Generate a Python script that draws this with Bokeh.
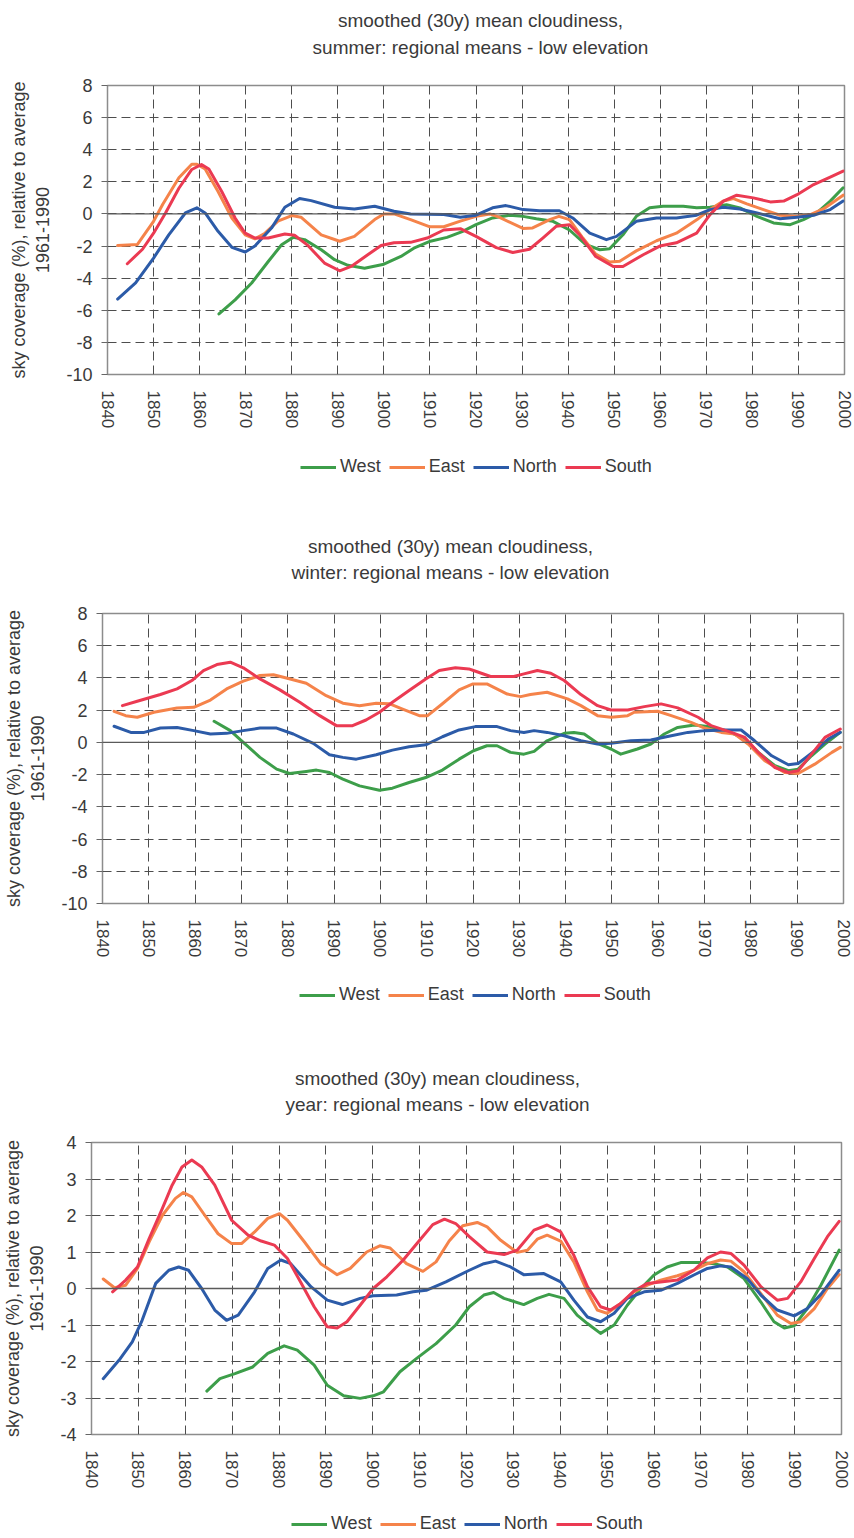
import math
from bokeh.plotting import figure
from bokeh.models import Range1d, FixedTicker, Span, Legend, LegendItem
from bokeh.core.properties import value
from bokeh.layouts import column
from bokeh.embed import file_html
from bokeh.resources import INLINE

# ----------------------------------------------------------------- data
regions = ["West", "East", "North", "South"]
region_colors = ["#3d9e4a", "#f5834a", "#2c5ba8", "#eb3a52"]

decade_ticks = [1840, 1850, 1860, 1870, 1880, 1890, 1900, 1910, 1920,
                1930, 1940, 1950, 1960, 1970, 1980, 1990, 2000]
season_yticks = [-10, -8, -6, -4, -2, 0, 2, 4, 6, 8]
year_yticks = [-4, -3, -2, -1, 0, 1, 2, 3, 4]

summer_title = ["smoothed (30y) mean cloudiness,", "summer: regional means - low elevation"]
winter_title = ["smoothed (30y) mean cloudiness,", "winter: regional means - low elevation"]
year_title = ["smoothed (30y) mean cloudiness,", "year: regional means - low elevation"]
y_axis_title = ["sky coverage (%), relative to average", "1961-1990"]

# --- summer
summer_west_years = [1864.2, 1867.7, 1871.3, 1874.9, 1877.8, 1880.3, 1882.8, 1886.4, 1889.3, 1892.2,
                     1895.8, 1900, 1903.7, 1906.5, 1910.1, 1913.7, 1917.0, 1920, 1923.6, 1927.3,
                     1930.2, 1933.1, 1936.7, 1940.3, 1943.9, 1946.9, 1949, 1951.9, 1954.8, 1957.7,
                     1960.6, 1965, 1967.9, 1970.8, 1974.4, 1977.3, 1981, 1984.6, 1988.2, 1991.1,
                     1994, 1996.9, 1999.7]
summer_west = [-6.23, -5.35, -4.3, -2.96, -1.92, -1.46, -1.6, -2.23, -2.85, -3.2,
               -3.38, -3.13, -2.65, -2.13, -1.7, -1.46, -1.1, -0.67, -0.25, -0.08,
               -0.15, -0.3, -0.46, -1.0, -1.92, -2.23, -2.17, -1.3, -0.15, 0.38,
               0.48, 0.48, 0.38, 0.42, 0.58, 0.38, -0.15, -0.56, -0.67, -0.35,
               0.06, 0.8, 1.63]
summer_east_years = [1842.2, 1846.5, 1850, 1852, 1855.5, 1858.3, 1859.4, 1861.2, 1864, 1867,
                     1869.9, 1872, 1874.2, 1877, 1880, 1882, 1886.4, 1890.4, 1893.6, 1898,
                     1900, 1902.2, 1905.8, 1910, 1913, 1916.6, 1920, 1923, 1925, 1930.2,
                     1932.3, 1936, 1938, 1940.3, 1943.2, 1946, 1949, 1951.2, 1954.8, 1959.2,
                     1963.5, 1968, 1970.8, 1973.7, 1975.9, 1978.8, 1982.4, 1986, 1989.7, 1992.6,
                     1995.5, 1999.7]
summer_east = [-1.96, -1.9, -0.46, 0.6, 2.25, 3.1, 3.1, 2.8, 1.4, -0.25,
               -1.3, -1.55, -1.2, -0.45, -0.1, -0.2, -1.3, -1.7, -1.4, -0.35,
               0.0, 0.0, -0.35, -0.8, -0.8, -0.45, -0.15, 0.0, -0.2, -0.9,
               -0.87, -0.35, -0.15, -0.35, -1.5, -2.5, -3.0, -2.95, -2.3, -1.67,
               -1.2, -0.35, 0.27, 0.8, 0.96, 0.63, 0.27, -0.08, -0.15, -0.04,
               0.33, 1.17]
summer_north_years = [1842.2, 1846.1, 1850, 1853.3, 1856.9, 1859.4, 1861.2, 1864, 1867, 1869.9,
                      1872, 1875.6, 1878.5, 1881.7, 1884.2, 1889.3, 1893.6, 1898, 1902.2, 1905.8,
                      1913, 1916.6, 1920, 1923.6, 1926.5, 1930.2, 1933.8, 1938.1, 1941, 1944.7,
                      1948.3, 1950.5, 1954.8, 1959.2, 1963.5, 1967.9, 1970.8, 1973.7, 1977.3, 1981,
                      1986, 1989.7, 1993.3, 1996.9, 1999.7]
summer_north = [-5.3, -4.3, -2.75, -1.3, 0.06, 0.38, 0.06, -1.08, -2.08, -2.37,
                -2.0, -0.88, 0.42, 0.96, 0.83, 0.42, 0.31, 0.48, 0.17, 0.0,
                -0.04, -0.2, -0.08, 0.38, 0.52, 0.27, 0.2, 0.2, -0.25, -1.2,
                -1.6, -1.4, -0.46, -0.25, -0.25, -0.08, 0.27, 0.42, 0.31, 0.06,
                -0.3, -0.2, -0.08, 0.27, 0.8]
summer_south_years = [1844.3, 1847.6, 1850, 1852.6, 1855.5, 1858.3, 1860.4, 1862, 1864.8, 1867.7,
                      1869.9, 1872, 1874.9, 1878.5, 1880.6, 1883.5, 1887.1, 1890.4, 1892.9, 1896.5,
                      1899.4, 1902.2, 1905.8, 1909.4, 1913, 1916.6, 1920, 1924.4, 1928, 1931.6,
                      1934.5, 1937.4, 1940.3, 1942.5, 1946, 1949.8, 1951.9, 1956.3, 1959.9, 1963.5,
                      1967.9, 1970.8, 1973.7, 1976.6, 1980.2, 1983.9, 1986.8, 1989.7, 1993.3, 1996.9,
                      1999.7]
summer_south = [-3.1, -2.2, -1.2, 0.06, 1.6, 2.77, 3.08, 2.8, 1.4, -0.25,
                -1.2, -1.5, -1.5, -1.25, -1.33, -1.96, -3.06, -3.54, -3.27, -2.54,
                -1.96, -1.8, -1.77, -1.5, -1.0, -0.92, -1.4, -2.1, -2.4, -2.2,
                -1.5, -0.77, -0.67, -1.3, -2.65, -3.27, -3.27, -2.54, -2.0, -1.8,
                -1.2, -0.04, 0.8, 1.17, 1.0, 0.75, 0.8, 1.2, 1.83, 2.3,
                2.67]

# --- winter
winter_west_years = [1864.1, 1867.6, 1870.4, 1874, 1877.6, 1880.4, 1884, 1886.2, 1889, 1891.9,
                     1895.5, 1899.8, 1902.6, 1906.2, 1909.8, 1913.4, 1917, 1920.1, 1923, 1925.2,
                     1928.1, 1931, 1933.2, 1936, 1939.7, 1941.8, 1944, 1946.9, 1949.8, 1951.9,
                     1955.5, 1958.4, 1961.3, 1964.2, 1967.8, 1970.7, 1975.1, 1978.7, 1981.6, 1985.2,
                     1988.1, 1990.2, 1993.1, 1996, 1999.3]
winter_west = [1.31, 0.73, 0.0, -0.93, -1.66, -1.93, -1.8, -1.72, -1.87, -2.28,
               -2.7, -2.97, -2.84, -2.49, -2.18, -1.72, -1.04, -0.52, -0.21, -0.21,
               -0.62, -0.73, -0.56, 0.1, 0.56, 0.62, 0.52, -0.06, -0.41, -0.73,
               -0.41, -0.1, 0.52, 0.93, 1.08, 0.98, 0.69, 0.21, -0.62, -1.45,
               -1.76, -1.66, -0.83, -0.1, 0.62]
winter_east_years = [1842.5, 1845, 1847.5, 1851.1, 1856.1, 1859.7, 1863.3, 1866.8, 1870.4, 1874,
                     1876.9, 1879.7, 1884, 1888.3, 1891.9, 1895.5, 1899.1, 1901.9, 1904.8, 1908.4,
                     1910.2, 1913.4, 1917, 1920, 1923, 1927.4, 1930.3, 1932.4, 1936, 1940.4,
                     1943.3, 1946.9, 1949.8, 1953.4, 1954.8, 1959.9, 1962.8, 1967.1, 1970, 1973.6,
                     1976.5, 1979.4, 1983, 1987.3, 1990.2, 1993.8, 1997.5, 1999.3]
winter_east = [1.93, 1.66, 1.56, 1.87, 2.14, 2.18, 2.63, 3.32, 3.8, 4.15,
               4.2, 4.0, 3.67, 2.9, 2.43, 2.28, 2.43, 2.4, 2.07, 1.66,
               1.66, 2.4, 3.26, 3.63, 3.63, 3.0, 2.84, 2.97, 3.11, 2.7,
               2.28, 1.66, 1.56, 1.66, 1.87, 1.93, 1.66, 1.24, 0.89, 0.62,
               0.52, -0.1, -1.14, -1.87, -1.93, -1.35, -0.62, -0.31]
winter_north_years = [1842.5, 1846.1, 1849, 1852.5, 1856.1, 1859.7, 1863.3, 1866.8, 1870.4, 1874,
                      1877.6, 1881.2, 1885.5, 1889, 1891.9, 1894.8, 1899.1, 1902.6, 1906.2, 1909.8,
                      1913.4, 1917, 1920.5, 1925.2, 1928.1, 1931, 1933.2, 1936, 1939.7, 1943.3,
                      1946.9, 1949.8, 1954.1, 1958.4, 1962.8, 1966.4, 1970, 1974.3, 1977.9, 1980.8,
                      1984.5, 1988.1, 1990.2, 1993.8, 1996.7, 1999.3]
winter_north = [1.0, 0.62, 0.62, 0.89, 0.93, 0.73, 0.52, 0.56, 0.73, 0.89,
                0.89, 0.52, -0.06, -0.77, -0.93, -1.04, -0.77, -0.48, -0.27, -0.15,
                0.35, 0.77, 0.98, 0.98, 0.73, 0.62, 0.73, 0.62, 0.41, 0.1,
                -0.1, -0.06, 0.1, 0.15, 0.41, 0.62, 0.73, 0.77, 0.77, 0.1,
                -0.83, -1.39, -1.31, -0.52, 0.21, 0.62]
winter_south_years = [1844.3, 1847.5, 1852.5, 1856.1, 1859.3, 1861.8, 1864.7, 1867.6, 1870.4, 1874,
                      1878.3, 1882.6, 1886.9, 1890.5, 1894, 1896.9, 1899.8, 1902.6, 1906.2, 1909.8,
                      1912.7, 1916.2, 1919.1, 1920.1, 1923.8, 1928.8, 1931, 1933.9, 1936.8, 1939.7,
                      1943.3, 1946.9, 1949.8, 1953.4, 1957, 1960.6, 1964.2, 1968.6, 1971.4, 1975.8,
                      1978.7, 1981.6, 1985.2, 1988.1, 1990.2, 1993.1, 1996, 1999.3]
winter_south = [2.28, 2.55, 2.97, 3.32, 3.84, 4.46, 4.83, 4.98, 4.63, 3.94,
                3.26, 2.49, 1.66, 1.04, 1.04, 1.39, 1.87, 2.49, 3.22, 3.94,
                4.46, 4.63, 4.56, 4.46, 4.09, 4.09, 4.25, 4.46, 4.29, 3.84,
                2.97, 2.28, 2.01, 2.01, 2.22, 2.39, 2.14, 1.56, 1.04, 0.62,
                0.31, -0.62, -1.56, -1.87, -1.76, -0.73, 0.31, 0.83]

# --- year
year_west_years = [1864.6, 1867.4, 1870.6, 1874.4, 1877.6, 1881.1, 1883.9, 1887.5, 1890.3, 1893.8,
                   1897.3, 1900.1, 1902.3, 1905.8, 1909.3, 1913.5, 1917.7, 1920.6, 1923.7, 1925.8,
                   1928, 1932.2, 1935.1, 1937.6, 1940.8, 1943.6, 1945.8, 1948.6, 1951.5, 1954.3,
                   1957.2, 1960, 1962.8, 1965.7, 1970, 1972.8, 1975.7, 1979.2, 1982.8, 1985.6,
                   1987.8, 1989.9, 1992.7, 1995.6, 1999.5]
year_west = [-2.81, -2.47, -2.33, -2.15, -1.78, -1.57, -1.69, -2.1, -2.65, -2.94,
             -3.01, -2.94, -2.83, -2.28, -1.92, -1.51, -1.0, -0.5, -0.18, -0.11,
             -0.27, -0.44, -0.27, -0.16, -0.27, -0.73, -0.96, -1.23, -1.0, -0.46,
             0.0, 0.37, 0.59, 0.71, 0.71, 0.68, 0.59, 0.27, -0.37, -0.91,
             -1.08, -1.02, -0.55, 0.09, 1.05]
year_east_years = [1842.5, 1844.9, 1847.3, 1849.8, 1852.3, 1855.1, 1857.9, 1859.6, 1861.4, 1864.2,
                   1867, 1869.9, 1872, 1874.8, 1877.6, 1880.1, 1881.8, 1885.4, 1888.9, 1892.4,
                   1895.2, 1898.7, 1901.5, 1903.7, 1907.2, 1910.7, 1913.5, 1916.3, 1919.2, 1922.3,
                   1924.4, 1927.3, 1930.8, 1933, 1935.1, 1937.2, 1940.1, 1942.9, 1945.8, 1947.9,
                   1950, 1952.9, 1955.7, 1958.6, 1961.4, 1965, 1968.5, 1971.4, 1974.2, 1976.4,
                   1979.2, 1982.8, 1986.3, 1989.2, 1991.3, 1994.2, 1997, 1999.5]
year_east = [0.26, 0.02, 0.09, 0.55, 1.28, 2.0, 2.47, 2.63, 2.51, 2.0,
             1.5, 1.23, 1.23, 1.55, 1.92, 2.05, 1.87, 1.28, 0.68, 0.38,
             0.55, 1.0, 1.17, 1.11, 0.68, 0.47, 0.73, 1.3, 1.72, 1.81,
             1.69, 1.32, 0.99, 1.05, 1.35, 1.46, 1.3, 0.73, -0.09, -0.59,
             -0.68, -0.41, -0.09, 0.09, 0.23, 0.35, 0.5, 0.68, 0.78, 0.75,
             0.46, -0.14, -0.73, -0.96, -0.91, -0.55, 0.0, 0.38]
year_north_years = [1842.5, 1845.9, 1848.7, 1850.8, 1853.7, 1856.5, 1858.6, 1860.7, 1863.5, 1866.3,
                    1868.8, 1871.3, 1874.8, 1877.6, 1880.4, 1882.5, 1886.8, 1890.3, 1893.5, 1897.3,
                    1900.1, 1905.1, 1908.6, 1911.4, 1915.6, 1920.6, 1923.7, 1926.2, 1929.4, 1932.2,
                    1936.5, 1940.1, 1942.9, 1945.8, 1948.6, 1951.5, 1954.3, 1957.9, 1961.4, 1965,
                    1968.5, 1971.4, 1974.2, 1976.4, 1979.9, 1982.8, 1986.3, 1989.9, 1992.7, 1995.6,
                    1999.5]
year_north = [-2.47, -1.96, -1.46, -0.87, 0.14, 0.5, 0.59, 0.5, 0.0, -0.59,
              -0.87, -0.73, -0.09, 0.55, 0.78, 0.68, 0.05, -0.32, -0.44, -0.27,
              -0.2, -0.18, -0.09, -0.05, 0.18, 0.5, 0.68, 0.75, 0.59, 0.38,
              0.41, 0.18, -0.32, -0.78, -0.91, -0.68, -0.27, -0.09, -0.05, 0.14,
              0.37, 0.55, 0.62, 0.59, 0.27, -0.18, -0.59, -0.75, -0.55, -0.16,
              0.5]
year_south_years = [1844.5, 1847.3, 1849.8, 1852.3, 1855.1, 1857.2, 1859.3, 1861.4, 1863.5, 1866.3,
                    1869.9, 1873.4, 1876.2, 1879, 1881.8, 1884.6, 1887.5, 1890.3, 1892.4, 1894.5,
                    1897.3, 1900.1, 1903, 1906.5, 1910, 1912.8, 1915.3, 1917.7, 1920.6, 1924.4,
                    1928, 1930.8, 1934.4, 1937.2, 1940.1, 1942.9, 1945.8, 1948.6, 1950.7, 1952.9,
                    1955.7, 1958.6, 1961.4, 1965, 1968.5, 1971.4, 1974.2, 1976.4, 1979.2, 1982.8,
                    1986.3, 1988.5, 1991.3, 1994.2, 1997, 1999.5]
year_south = [-0.09, 0.23, 0.59, 1.37, 2.19, 2.83, 3.33, 3.52, 3.33, 2.83,
              1.87, 1.46, 1.3, 1.19, 0.82, 0.18, -0.5, -1.05, -1.08, -0.91,
              -0.46, 0.0, 0.32, 0.78, 1.32, 1.75, 1.9, 1.78, 1.42, 1.0,
              0.93, 1.05, 1.6, 1.74, 1.55, 0.91, 0.05, -0.5, -0.59, -0.41,
              -0.07, 0.14, 0.18, 0.23, 0.5, 0.84, 1.0, 0.96, 0.64, 0.05,
              -0.32, -0.27, 0.18, 0.82, 1.42, 1.84]

# ----------------------------------------------------------------- styling / layout
FONT = "Liberation Sans"
TXT = "#3a3a3a"
W = 854

# page geometry (px from the top-left of the page)
charts = [
    dict(title=summer_title, yticks=season_yticks,
         series=[(summer_west_years, summer_west), (summer_east_years, summer_east),
                 (summer_north_years, summer_north), (summer_south_years, summer_south)],
         band=(0, 62, 440, 505), frame=(107, 844, 85, 374),
         title_x=480, title_y=(20, 46.5), legend_c=(476, 467)),
    dict(title=winter_title, yticks=season_yticks,
         series=[(winter_west_years, winter_west), (winter_east_years, winter_east),
                 (winter_north_years, winter_north), (winter_south_years, winter_south)],
         band=(505, 590, 970, 1035), frame=(102, 843, 613, 903),
         title_x=450, title_y=(546, 572), legend_c=(475, 995)),
    dict(title=year_title, yticks=year_yticks,
         series=[(year_west_years, year_west), (year_east_years, year_east),
                 (year_north_years, year_north), (year_south_years, year_south)],
         band=(1035, 1119, 1500, 1536), frame=(89, 841, 1142, 1434),
         title_x=437, title_y=(1078, 1104), legend_c=(467, 1524)),
]

legend_text_em = [2.278, 2.001, 2.445, 2.613]   # label advance widths (em)


def no_align(f):
    try:
        f.frame_align = False
    except Exception:
        pass
    return f


def blank_fig(cfg, h):
    fl, fr = cfg["frame"][0], cfg["frame"][1]
    f = figure(width=W, height=h, x_range=Range1d(fl, fr), y_range=Range1d(h, 0),
               output_backend="svg", toolbar_location=None,
               x_axis_location=None, y_axis_location=None,
               min_border_left=fl, min_border_right=W - fr, min_border_top=0, min_border_bottom=0)
    f.grid.visible = False
    f.outline_line_color = None
    return no_align(f)


def title_fig(cfg):
    t0, t1 = cfg["band"][0], cfg["band"][1]
    f = blank_fig(cfg, t1 - t0)
    f.text(x=[cfg["title_x"]] * 2, y=[y - t0 for y in cfg["title_y"]], text=cfg["title"],
           text_align="center", text_baseline="middle", text_color=TXT,
           text_font=value(FONT), text_font_size=value("19px"))
    return f


def legend_fig(cfg):
    fl = cfg["frame"][0]
    l0, l1 = cfg["band"][2], cfg["band"][3]
    h = l1 - l0
    f = blank_fig(cfg, h)
    items = []
    for name, col in zip(regions, region_colors):
        # legend swatch only: a renderer whose points lie outside the visible ranges
        r = f.line(x=[fl - 60, fl - 50], y=[-40, -40], line_color=col, line_width=3)
        items.append(LegendItem(label=name, renderers=[r]))
    fs = 18
    gw, so, sp = 36, 4, 8
    lw = sum(e * fs for e in legend_text_em) + 4 * (gw + so) + 3 * sp
    cx, cy = cfg["legend_c"]
    leg = Legend(items=items, orientation="horizontal",
                 location=(cx - lw / 2.0 - fl, h - (cy - l0) - 10),
                 glyph_width=gw, glyph_height=20, label_height=20,
                 label_standoff=so, spacing=sp, padding=0, margin=0,
                 label_text_font=FONT, label_text_font_size=f"{fs}px",
                 label_text_color=TXT, label_text_baseline="middle",
                 border_line_alpha=0, background_fill_alpha=0)
    f.add_layout(leg)
    return f


def main_fig(cfg):
    fl, fr, ft, fb = cfg["frame"]
    top, bottom = cfg["band"][1], cfg["band"][2]
    yt = cfg["yticks"]
    p = figure(width=W, height=bottom - top, x_range=Range1d(1840, 2000),
               y_range=Range1d(min(yt), max(yt)),
               output_backend="svg", toolbar_location=None,
               min_border_left=fl, min_border_right=W - fr,
               min_border_top=ft - top, min_border_bottom=bottom - fb,
               background_fill_color="white", border_fill_color="white")
    no_align(p)
    p.outline_line_color = "#8c8c8c"
    p.outline_line_width = 1.5

    ax = p.xaxis[0]
    ax.ticker = FixedTicker(ticks=decade_ticks)
    ax.major_label_orientation = -math.pi / 2
    ax.major_tick_out = 0
    ax.major_tick_in = 0
    ax.minor_tick_out = 0
    ax.minor_tick_in = 0
    ax.axis_line_color = None
    ax.major_label_standoff = 16
    ax.major_label_text_font = FONT
    ax.major_label_text_font_size = "17px"
    ax.major_label_text_color = TXT

    ay = p.yaxis[0]
    ay.ticker = FixedTicker(ticks=yt)
    ay.major_label_overrides = {v: str(v) for v in yt}
    ay.major_tick_out = 6
    ay.major_tick_in = 0
    ay.minor_tick_out = 0
    ay.minor_tick_in = 0
    ay.major_tick_line_color = "#666666"
    ay.axis_line_color = None
    ay.major_label_standoff = 9
    ay.major_label_text_font = FONT
    ay.major_label_text_font_size = "18px"
    ay.major_label_text_color = TXT
    ay.axis_label = "\n".join(y_axis_title)
    ay.axis_label_text_font = FONT
    ay.axis_label_text_font_size = "18px"
    ay.axis_label_text_font_style = "normal"
    ay.axis_label_text_color = TXT
    ay.axis_label_text_align = "center"
    ay.axis_label_standoff = 10

    for g, ticks in ((p.xgrid[0], decade_ticks), (p.ygrid[0], yt)):
        g.ticker = FixedTicker(ticks=ticks)
        g.grid_line_color = "#4d4d4d"
        g.grid_line_dash = "9 5"
        g.grid_line_width = 1

    p.add_layout(Span(location=0, dimension="width", line_color="#5a5a5a", line_width=1.3))

    for (xs, ys), col in zip(cfg["series"], region_colors):
        p.line(xs, ys, line_color=col, line_width=3, line_join="round", line_cap="round")
    return p


groups = [column(title_fig(c), main_fig(c), legend_fig(c), spacing=0) for c in charts]
layout = column(*groups, spacing=0)

open("out.html", "w").write(file_html(layout, INLINE, title="smoothed (30y) mean cloudiness"))
